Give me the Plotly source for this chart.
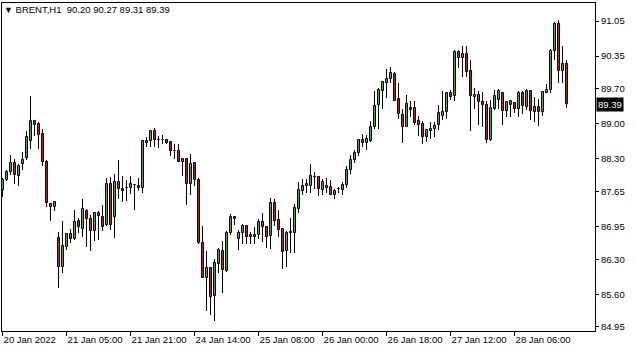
import plotly.graph_objects as go

symbol = "BRENT,H1"

opens = [87.68, 87.88, 88.05, 88.21, 87.97, 88.20, 88.31, 88.65, 89.05, 89.00,
         88.80, 88.24, 87.40, 87.35, 86.72, 86.14, 86.55, 86.80, 86.70, 87.06,
         86.91, 87.27, 87.10, 86.86, 87.22, 87.15, 86.98, 87.81, 87.14, 87.85,
         87.70, 87.72, 87.72, 87.79, 87.76, 87.73, 88.65, 88.65, 88.85, 88.67,
         88.68, 88.68, 88.64, 88.45, 88.45, 88.24, 88.29, 87.80, 88.21, 87.89,
         86.62, 85.93, 86.13, 85.57, 86.21, 86.47, 86.06, 86.82, 87.14, 86.71,
         86.82, 86.96, 86.78, 86.74, 86.79, 87.04, 86.94, 86.76, 87.42, 87.08,
         86.90, 86.46, 86.82, 86.83, 87.31, 87.67, 87.76, 87.76, 87.95, 87.95,
         87.68, 87.72, 87.75, 87.59, 87.70, 87.68, 87.79, 88.08, 88.27, 88.41,
         88.68, 88.62, 88.66, 88.94, 89.37, 89.65, 89.81, 89.89, 89.99, 89.49,
         89.17, 88.94, 89.32, 89.32, 89.05, 89.00, 88.73, 88.86, 88.89, 88.97,
         89.16, 89.23, 89.61, 89.55, 90.43, 90.31, 90.39, 90.05, 89.53, 89.58,
         89.44, 89.37, 88.68, 89.29, 89.48, 89.61, 89.25, 89.45, 89.41, 89.29,
         89.61, 89.34, 89.66, 89.24, 89.33, 89.24, 89.62, 89.68, 90.45, 91.00,
         90.06, 90.20]

highs = [87.93, 88.08, 88.37, 88.29, 88.20, 88.43, 88.85, 89.55, 89.08, 89.04,
         88.89, 88.27, 87.43, 87.47, 86.84, 87.07, 86.83, 86.91, 87.28, 87.12,
         87.51, 87.30, 87.19, 87.24, 87.26, 87.38, 87.93, 87.95, 88.01, 88.28,
         87.97, 87.88, 87.97, 87.81, 87.92, 88.68, 88.74, 88.88, 88.92, 88.76,
         88.77, 88.70, 88.66, 88.60, 88.59, 88.30, 88.31, 88.39, 88.24, 87.92,
         86.96, 86.46, 86.14, 86.30, 86.53, 86.67, 86.86, 87.20, 87.15, 86.88,
         87.00, 86.99, 86.84, 86.94, 87.10, 87.22, 86.96, 87.52, 87.50, 87.28,
         86.91, 86.86, 87.12, 87.40, 87.84, 87.91, 87.91, 88.20, 88.05, 87.96,
         87.91, 87.92, 87.89, 87.70, 87.75, 87.84, 88.17, 88.37, 88.47, 88.69,
         88.80, 88.78, 89.06, 89.65, 89.72, 89.86, 90.09, 90.13, 90.03, 89.81,
         89.29, 89.58, 89.45, 89.45, 89.16, 89.06, 88.90, 89.04, 89.04, 89.38,
         89.65, 89.63, 89.68, 90.47, 90.48, 90.55, 90.55, 90.27, 89.72, 89.66,
         89.63, 89.46, 89.48, 89.68, 89.69, 89.62, 89.46, 89.48, 89.42, 89.65,
         89.66, 89.69, 89.68, 89.53, 89.50, 89.64, 89.80, 90.49, 91.03, 91.08,
         90.55, 90.27]

lows = [87.54, 87.87, 87.99, 87.80, 87.77, 88.08, 88.27, 88.50, 88.76, 88.50,
        88.17, 87.35, 87.07, 87.26, 85.73, 86.03, 86.49, 86.63, 86.68, 86.82,
        86.75, 86.55, 86.47, 86.66, 86.68, 86.86, 86.96, 86.88, 86.72, 87.51,
        87.44, 87.47, 87.60, 87.28, 87.66, 87.63, 88.53, 88.54, 88.54, 88.52,
        88.60, 88.60, 88.35, 88.29, 88.23, 87.97, 87.39, 87.59, 87.76, 86.60,
        85.92, 85.26, 85.18, 85.06, 86.02, 85.63, 86.05, 86.78, 86.99, 86.49,
        86.60, 86.60, 86.60, 86.60, 86.71, 86.64, 86.53, 86.51, 86.96, 86.74,
        86.10, 86.14, 86.42, 86.42, 87.22, 87.59, 87.63, 87.63, 87.71, 87.56,
        87.59, 87.63, 87.58, 87.51, 87.63, 87.59, 87.73, 88.01, 88.21, 88.36,
        88.53, 88.47, 88.64, 88.90, 88.90, 89.30, 89.52, 89.82, 89.45, 89.10,
        88.61, 88.93, 89.14, 88.98, 88.76, 88.59, 88.64, 88.70, 88.74, 88.88,
        89.07, 89.10, 89.48, 89.45, 90.11, 89.94, 89.93, 88.85, 89.30, 88.98,
        88.94, 88.62, 88.66, 89.28, 89.29, 88.98, 89.14, 89.14, 89.21, 89.14,
        89.20, 89.28, 89.08, 89.04, 88.96, 89.16, 89.61, 89.62, 90.27, 89.81,
        89.81, 89.31]

closes = [87.89, 88.04, 88.21, 87.99, 88.17, 88.28, 88.73, 89.05, 88.98, 88.77,
          88.24, 87.43, 87.35, 87.44, 86.15, 86.56, 86.80, 86.71, 87.04, 86.94,
          87.30, 87.10, 86.87, 87.22, 87.16, 86.95, 87.81, 86.98, 87.85, 87.70,
          87.67, 87.72, 87.80, 87.78, 87.72, 88.65, 88.61, 88.85, 88.68, 88.67,
          88.68, 88.62, 88.45, 88.45, 88.24, 88.29, 87.80, 88.20, 87.88, 86.62,
          85.93, 86.13, 85.54, 86.22, 86.49, 86.09, 86.82, 87.15, 87.11, 86.82,
          86.96, 86.75, 86.74, 86.78, 87.04, 86.95, 86.74, 87.42, 87.06, 86.88,
          86.45, 86.83, 86.84, 87.32, 87.68, 87.76, 87.81, 87.96, 87.95, 87.70,
          87.85, 87.76, 87.59, 87.67, 87.70, 87.79, 88.08, 88.28, 88.41, 88.68,
          88.62, 88.70, 88.94, 89.36, 89.68, 89.83, 89.89, 90.01, 89.46, 89.20,
          88.93, 89.40, 89.28, 89.02, 88.98, 88.73, 88.88, 88.89, 88.96, 89.22,
          89.23, 89.61, 89.53, 90.43, 90.31, 90.39, 90.03, 89.56, 89.58, 89.44,
          89.38, 88.68, 89.32, 89.56, 89.66, 89.25, 89.44, 89.38, 89.30, 89.61,
          89.36, 89.66, 89.25, 89.34, 89.24, 89.63, 89.68, 90.45, 91.00, 90.05,
          90.20, 89.39]

tick_bars = [0, 16, 32, 48, 64, 80, 96, 112, 128]
tick_labels = ["20 Jan 2022", "21 Jan 05:00", "21 Jan 21:00", "24 Jan 14:00",
               "25 Jan 08:00", "26 Jan 00:00", "26 Jan 18:00", "27 Jan 12:00",
               "28 Jan 06:00"]

price_ticks = [84.95, 85.60, 86.30, 86.95, 87.65, 88.30, 89.00, 89.70, 90.35, 91.05]

FONT = "Liberation Sans, Arial, sans-serif"
UP, DOWN = "#3cb043", "#e01414"

bars = list(range(len(opens)))
up_idx = [i for i in bars if closes[i] > opens[i]]
dn_idx = [i for i in bars if closes[i] <= opens[i]]

fig = go.Figure()
# wicks (high-low range)
fig.add_trace(go.Bar(x=bars, base=lows, y=[h - l for h, l in zip(highs, lows)],
                     width=0.15, marker=dict(color="black", line=dict(width=0)),
                     hoverinfo="skip"))
# bodies
for idx, col in ((up_idx, UP), (dn_idx, DOWN)):
    fig.add_trace(go.Bar(
        x=idx,
        base=[min(opens[i], closes[i]) for i in idx],
        y=[abs(closes[i] - opens[i]) for i in idx],
        width=0.5,
        marker=dict(color=col, line=dict(color="black", width=1)),
        hoverinfo="skip"))

last = len(closes) - 1
header = (f"<span style='font-size:9px'>▼</span> {symbol}\u00a0\u00a0"
          f"{opens[last]:.2f} {highs[last]:.2f} {lows[last]:.2f} {closes[last]:.2f}")

fig.update_layout(
    width=635, height=352,
    margin=dict(l=2, r=40, t=3, b=21),
    paper_bgcolor="white", plot_bgcolor="white",
    font=dict(family=FONT, size=9.5, color="black"),
    showlegend=False,
    barmode="overlay", bargap=0, bargroupgap=0,
    title=dict(text=header, x=4/635, xref="container", xanchor="left",
               y=1 - 10/352, yref="container", yanchor="middle",
               font=dict(family=FONT, size=9.5, color="black")),
    xaxis=dict(range=[-0.15, 148.1], showline=True, linecolor="black", linewidth=1,
               mirror=True, showgrid=False, zeroline=False,
               tickmode="array", tickvals=tick_bars, ticktext=tick_labels,
               ticks="outside", ticklen=4, tickcolor="black", tickwidth=1,
               ticklabelposition="outside right", fixedrange=True),
    yaxis=dict(side="right", range=[84.87, 91.41], showline=True, linecolor="black",
               linewidth=1, mirror=True, showgrid=False, zeroline=False,
               tickmode="array", tickvals=price_ticks,
               ticktext=[f"{v:.2f}" for v in price_ticks],
               ticks="outside", ticklen=3, tickcolor="black", tickwidth=1,
               fixedrange=True),
)

fig.add_annotation(x=1, xref="paper", y=closes[last], yref="y",
                   xanchor="left", yanchor="middle", xshift=1,
                   text=f"{closes[last]:.2f}", showarrow=False,
                   bgcolor="black", font=dict(color="white", family=FONT, size=9.5),
                   borderpad=1)

fig.write_html("out.html")
